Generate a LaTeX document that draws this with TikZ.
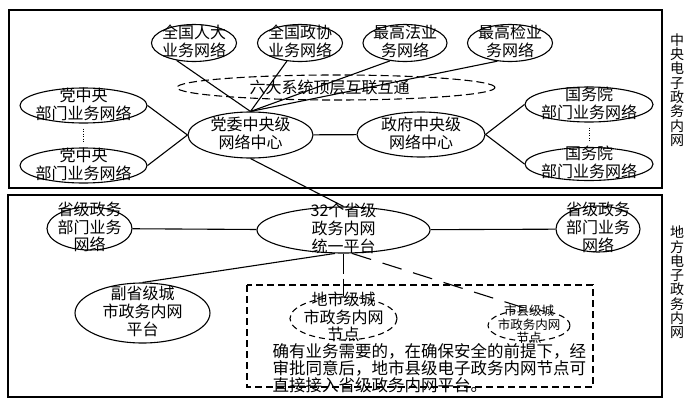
\documentclass[tikz,border=0pt]{standalone}
\usepackage{fontspec}
\newfontfamily\cjk{Noto Sans CJK SC}
\usetikzlibrary{shapes.geometric}
% centred text that takes no room, so the ellipse keeps its given size
\newcommand\elltext[1]{\vbox to 0pt{\vss\hbox to 0pt{\hss\begin{tabular}{@{}c@{}}#1\end{tabular}\hss}\vss}}

\begin{document}
\begin{tikzpicture}[x=1pt, y=-1pt, line width=1.1pt,
  net/.style={draw, ellipse, inner sep=0pt, font=\cjk\fontsize{16}{14}\selectfont},
  netd/.style={net, dash pattern=on 6pt off 4pt},
  side/.style={font=\cjk\fontsize{14}{14.3}\selectfont, align=center, inner sep=0pt},
  link/.style={line width=1.1pt},
]
  \useasboundingbox (0,0) rectangle (691,407);

  % central network
  \draw[line width=1.2pt] (9,10) rectangle (662,188);
  \node[side] (labc) at (677,90) {中\\央\\电\\子\\政\\务\\内\\网};

  \node[net, minimum width=85, minimum height=37] (npc)    at (194,43) {\elltext{全国人大\\业务网络}};
  \node[net, minimum width=85, minimum height=37] (cppcc)  at (300,43) {\elltext{全国政协\\业务网络}};
  \node[net, minimum width=84, minimum height=37] (court)  at (405,43) {\elltext{最高法业\\务网络}};
  \node[net, minimum width=85, minimum height=37] (procur) at (510,43) {\elltext{最高检业\\务网络}};
  \node[net, dash pattern=on 8pt off 4pt, minimum width=318, minimum height=25] (six) at (336,87.5)
       {\hbox to 0pt{\hss\kern-13pt 六大系统顶层互联互通\hss}};

  \node[net, minimum width=125, minimum height=46] (dw)  at (250.5,135) {\elltext{党委中央级\\网络中心}};
  \node[net, minimum width=128, minimum height=45] (gov) at (421,134.5) {\elltext{政府中央级\\网络中心}};

  \node[net, minimum width=127, minimum height=35] (pc1) at (83.5,105.5) {\elltext{党中央\\部门业务网络}};
  \node[net, minimum width=127, minimum height=35] (pc2) at (83.5,165.5) {\elltext{党中央\\部门业务网络}};
  \node[net, minimum width=128, minimum height=35] (sc1) at (589,104.5) {\elltext{国务院\\部门业务网络}};
  \node[net, minimum width=128, minimum height=33] (sc2) at (589,164)   {\elltext{国务院\\部门业务网络}};

  \draw[link] (npc.225) -- (dw.north);
  \draw[link] (cppcc) -- (dw.north);
  \draw[link] (court.230) -- (dw.north);
  \draw[link] (procur.235) -- (dw.north);
  \draw[link] (pc1.east) -- (dw.west);
  \draw[link] (pc2.east) -- (dw.west);
  \draw[link] (dw) -- (gov);
  \draw[link] (gov.east) -- (sc1.west);
  \draw[link] (gov.east) -- (sc2.west);
  \draw[line width=0.8pt, dash pattern=on 1pt off 1.5pt, shorten <=5pt, shorten >=6pt] (pc1) -- (pc2);
  \draw[line width=0.8pt, dash pattern=on 1pt off 1.5pt, shorten <=5pt, shorten >=6pt] (sc1) -- (sc2);

  % local network
  \draw[line width=1.2pt] (8,195) rectangle (662,397);
  \node[side] (labl) at (677,282.5) {地\\方\\电\\子\\政\\务\\内\\网};

  \node[net, minimum width=173, minimum height=46] (prov) at (343.5,230) {\elltext{32个省级\\政务内网\\统一平台}};
  \node[net, minimum width=85, minimum height=43]  (pl)   at (89.5,228.5) {\elltext{省级政务\\部门业务\\网络}};
  \node[net, minimum width=84, minimum height=46]  (pr)   at (598,229)    {\elltext{省级政务\\部门业务\\网络}};
  \node[net, minimum width=135, minimum height=60] (fu)   at (142.5,313)  {\elltext{副省级城\\市政务内网\\平台}};

  \draw[dash pattern=on 7pt off 4pt] (247,285) rectangle (593,387);
  \node[netd, minimum width=107, minimum height=43] (dishi) at (343.5,318.5) {\elltext{地市级城\\市政务内网\\节点}};
  \node[netd, minimum width=82, minimum height=31, font=\cjk\fontsize{12.5}{9.8}\selectfont] (xian) at (529,325.5)
       {\elltext{市县级城\\市政务内网\\节点}};
  \node[font=\cjk\fontsize{16.5}{14}\selectfont, align=left, inner sep=0pt, anchor=west] (note) at (272,368)
       {确有业务需要的，在确保安全的前提下，经\\审批同意后，地市县级电子政务内网节点可\\直接接入省级政务内网平台。};

  \draw[link] (dw.south) -- (prov.north);
  \draw[link] (prov) -- (pl);
  \draw[link] (prov) -- (pr);
  \draw[link] (prov.250) -- (fu.north);
  \draw[dash pattern=on 20pt off 5pt] (prov.south) -- (dishi.north);
  \draw[dash pattern=on 20pt off 12pt] (prov.290) -- (xian.north);
\end{tikzpicture}
\end{document}
